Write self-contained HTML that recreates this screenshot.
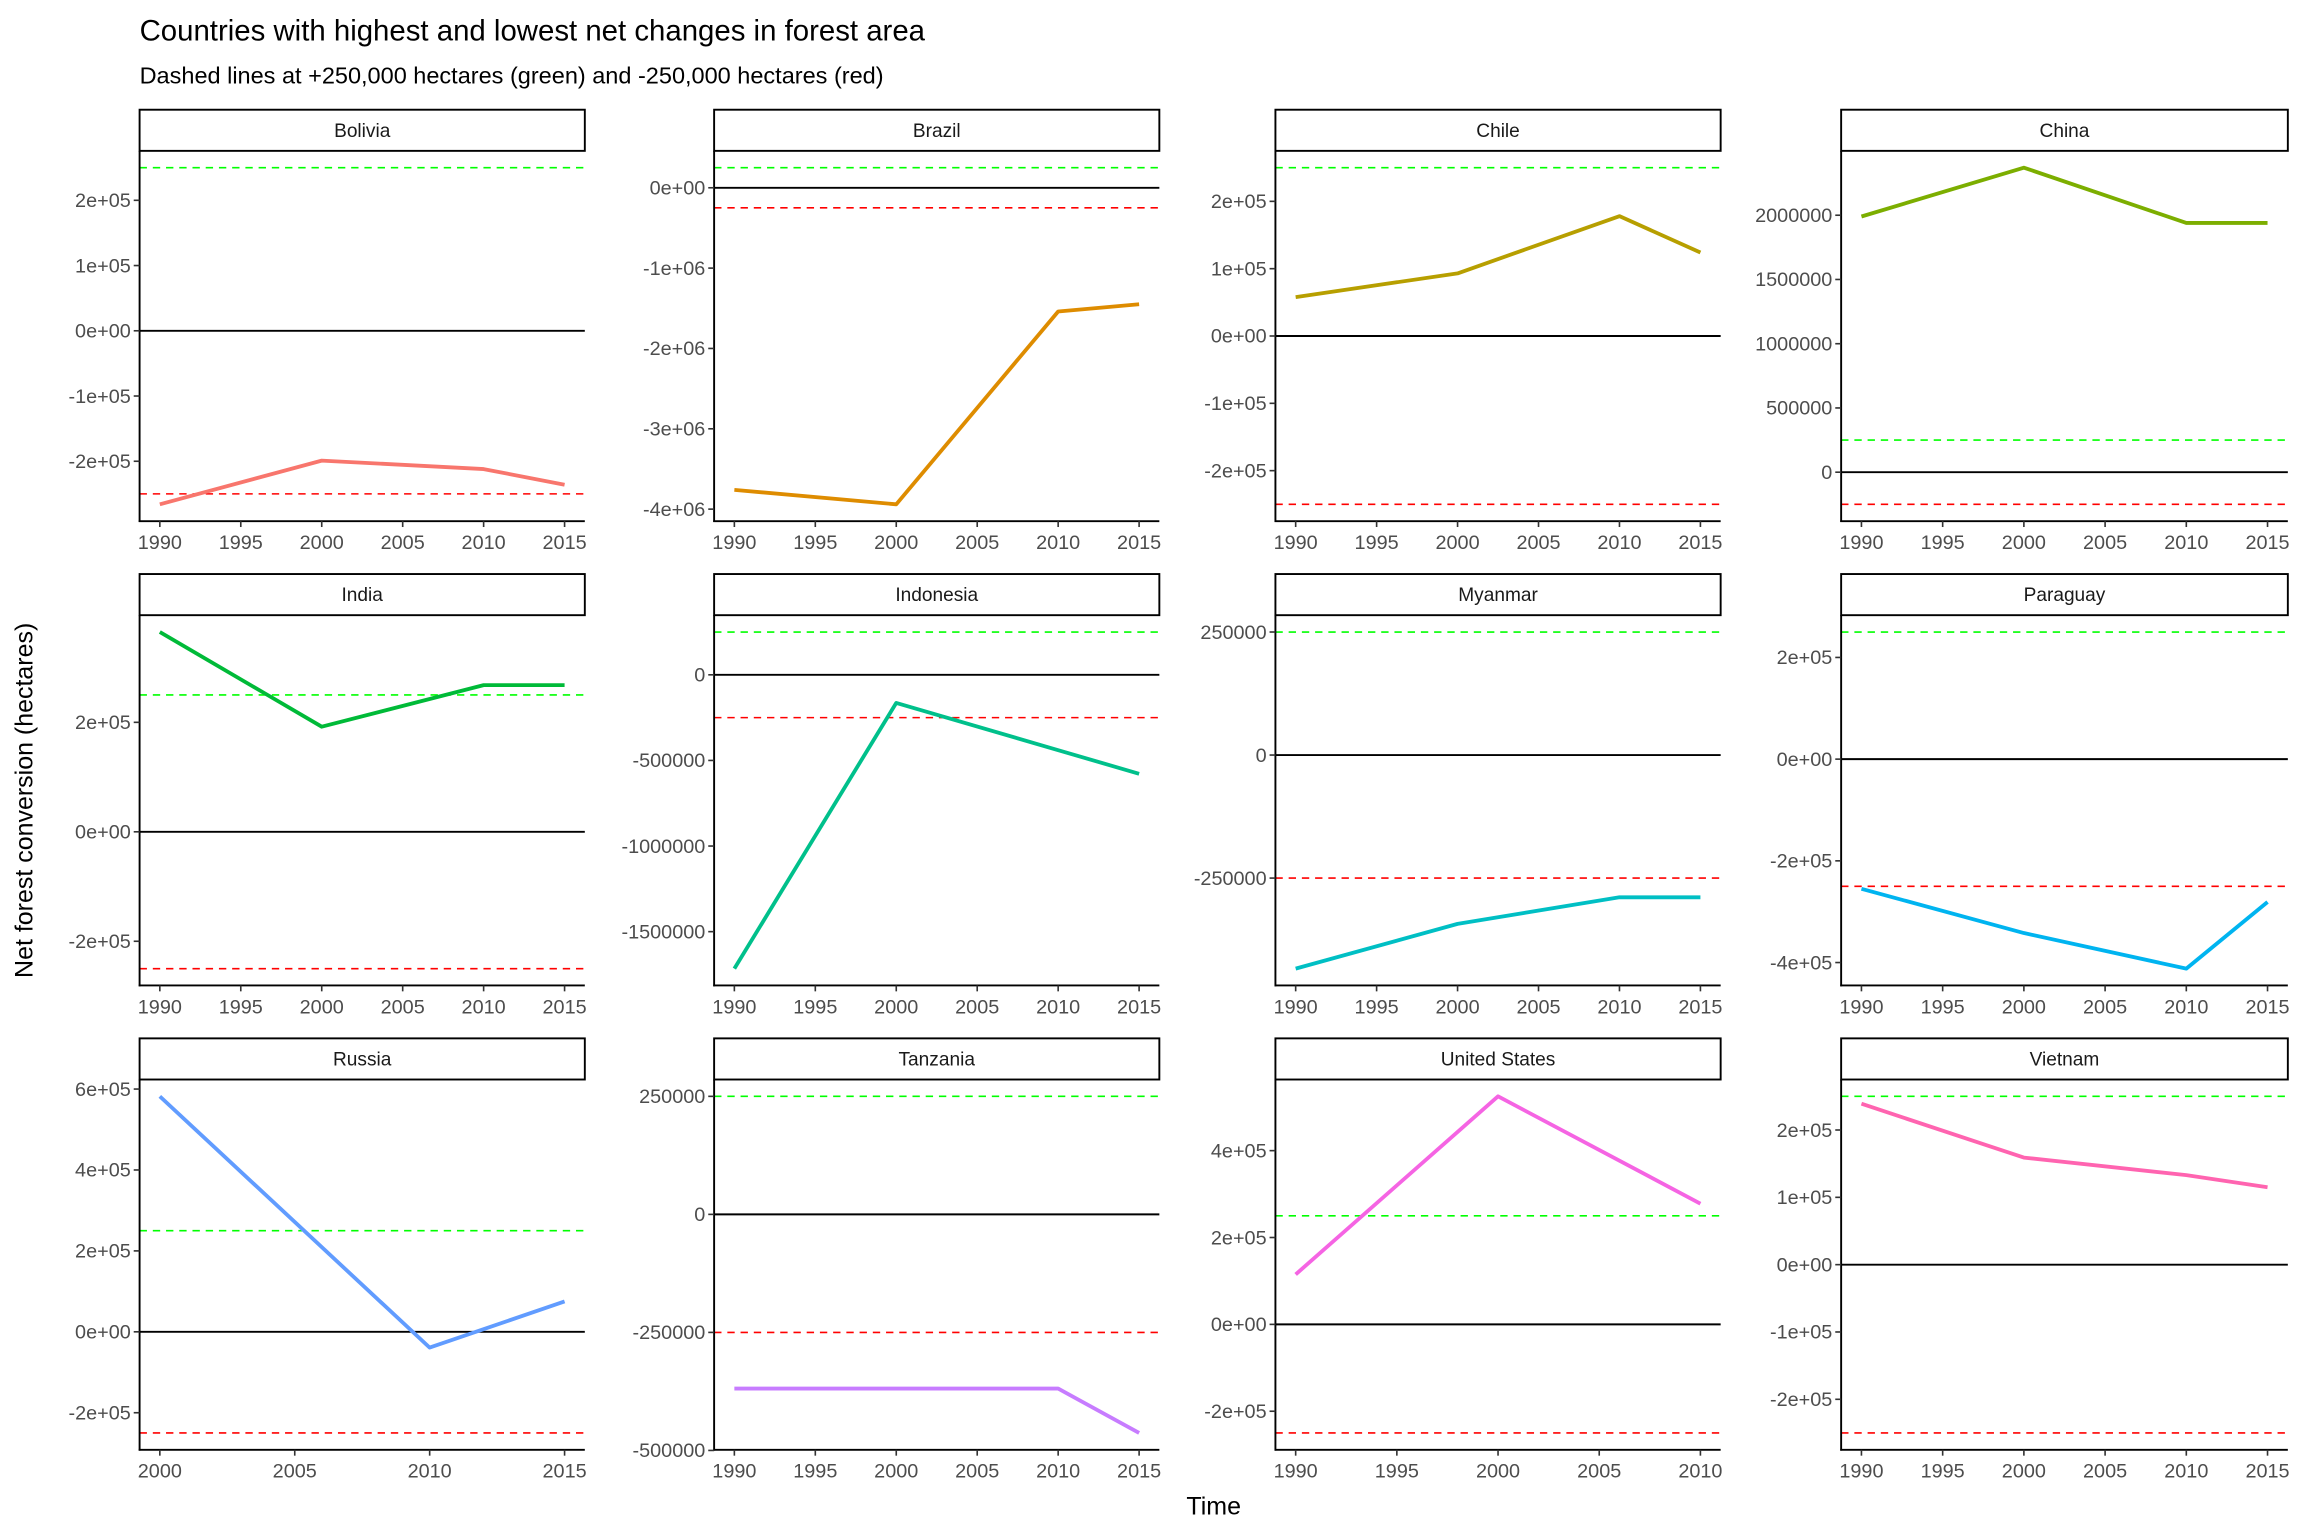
<!DOCTYPE html>
<html><head><meta charset="utf-8"><style>
body{margin:0;background:#fff}
svg{display:block;font-family:"Liberation Sans",sans-serif}
</style></head><body>
<svg id="chart" width="2304" height="1536" viewBox="0 0 1568 1044" xmlns="http://www.w3.org/2000/svg">
<rect width="1568" height="1044" fill="#fff"/>
<text x="95" y="27" font-size="20" fill="#000">Countries with highest and lowest net changes in forest area</text>
<text x="95" y="56" font-size="16" fill="#000">Dashed lines at +250,000 hectares (green) and -250,000 hectares (red)</text>
<text x="826" y="1030" font-size="17" text-anchor="middle">Time</text>
<text transform="translate(22,544) rotate(-90)" font-size="17" text-anchor="middle">Net forest conversion (hectares)</text>
<g id="panels"></g>
</svg>
<script>
const countries = ["Bolivia","Brazil","Chile","China","India","Indonesia","Myanmar","Paraguay","Russia","Tanzania","United States","Vietnam"];
const colors = ["#F8766D","#DE8C00","#B79F00","#7CAE00","#00BA38","#00C08B","#00BFC4","#00B4F0","#619CFF","#C77CFF","#F564E3","#FF64B0"];
const years = [
 [1990,2000,2010,2015],[1990,2000,2010,2015],[1990,2000,2010,2015],[1990,2000,2010,2015],
 [1990,2000,2010,2015],[1990,2000,2010,2015],[1990,2000,2010,2015],[1990,2000,2010,2015],
 [2000,2010,2015],[1990,2000,2010,2015],[1990,2000,2010],[1990,2000,2010,2015]];
const values = [
 [-266000,-199000,-212000,-236000],
 [-3760000,-3940000,-1540000,-1450000],
 [57800,93000,178000,124000],
 [1990000,2370000,1940000,1940000],
 [365000,192000,268000,268000],
 [-1716000,-164000,-440000,-578000],
 [-434000,-343000,-289000,-289000],
 [-255000,-342000,-412000,-281000],
 [582000,-39000,75000],
 [-369000,-369000,-369000,-463000],
 [115000,525000,278000],
 [239000,159000,133000,115000]];
const yTicks = [
 [-200000,-100000,0,100000,200000],
 [-4000000,-3000000,-2000000,-1000000,0],
 [-200000,-100000,0,100000,200000],
 [0,500000,1000000,1500000,2000000],
 [-200000,0,200000],
 [-1500000,-1000000,-500000,0],
 [-250000,0,250000],
 [-400000,-200000,0,200000],
 [-200000,0,200000,400000,600000],
 [-500000,-250000,0,250000],
 [-200000,0,200000,400000],
 [-200000,-100000,0,100000,200000]];
const yTickLabels = [
 ["-2e+05","-1e+05","0e+00","1e+05","2e+05"],
 ["-4e+06","-3e+06","-2e+06","-1e+06","0e+00"],
 ["-2e+05","-1e+05","0e+00","1e+05","2e+05"],
 ["0","500000","1000000","1500000","2000000"],
 ["-2e+05","0e+00","2e+05"],
 ["-1500000","-1000000","-500000","0"],
 ["-250000","0","250000"],
 ["-4e+05","-2e+05","0e+00","2e+05"],
 ["-2e+05","0e+00","2e+05","4e+05","6e+05"],
 ["-500000","-250000","0","250000"],
 ["-2e+05","0e+00","2e+05","4e+05"],
 ["-2e+05","-1e+05","0e+00","1e+05","2e+05"]];
const xTicks = [
 [1990,1995,2000,2005,2010,2015],[1990,1995,2000,2005,2010,2015],[1990,1995,2000,2005,2010,2015],[1990,1995,2000,2005,2010,2015],
 [1990,1995,2000,2005,2010,2015],[1990,1995,2000,2005,2010,2015],[1990,1995,2000,2005,2010,2015],[1990,1995,2000,2005,2010,2015],
 [2000,2005,2010,2015],[1990,1995,2000,2005,2010,2015],[1990,1995,2000,2005,2010],[1990,1995,2000,2005,2010,2015]];
const refLines = [250000,-250000];

const NS="http://www.w3.org/2000/svg";
const colL=[95,486,868,1253], colW=[303,303,303,304];
const rowT=[102,418,734], plotH=252, stripH=28;
const root=document.getElementById('panels');
function mk(tag,attrs,parent){const e=document.createElementNS(NS,tag);for(const k in attrs)e.setAttribute(k,attrs[k]);parent.appendChild(e);return e;}

countries.forEach((c,i)=>{
 const L=colL[i%4], W=colW[i%4], T=rowT[Math.floor(i/4)], B=T+plotH;
 const g=mk('g',{},root);
 
 
 const ys=years[i], vs=values[i];
 const x0=Math.min(...ys), x1=Math.max(...ys), xp=(x1-x0)*0.05;
 const xs=v=>L+(v-(x0-xp))/((x1-x0)+2*xp)*W;
 const all=vs.concat(refLines,[0]);
 const lo=Math.min(...all), hi=Math.max(...all), yp=(hi-lo)*0.05;
 const yS=v=>B-(v-(lo-yp))/((hi-lo)+2*yp)*plotH;
 const s=mk('rect',{x:L,y:T-stripH,width:W,height:stripH,fill:'#fff',stroke:'#000','stroke-width':1.3},g);
 
 
 const st=mk('text',{x:L+W/2,y:T-stripH/2+4.5,'font-size':13,'text-anchor':'middle',fill:'#1a1a1a'},g);
 st.textContent=c;
 
 
 const gl=mk('line',{x1:L,x2:L+W,y1:yS(refLines[0]),y2:yS(refLines[0]),stroke:'#00FF00','stroke-width':1.1,'stroke-dasharray':'5,4'},g);
 
 
 const rl=mk('line',{x1:L,x2:L+W,y1:yS(refLines[1]),y2:yS(refLines[1]),stroke:'#FF0000','stroke-width':1.1,'stroke-dasharray':'5,4'},g);
 
 
 const zl=mk('line',{x1:L,x2:L+W,y1:yS(0),y2:yS(0),stroke:'#000','stroke-width':1.3},g);
 
 
 const pl=mk('polyline',{points:ys.map((y,k)=>xs(y)+','+yS(vs[k])).join(' '),fill:'none',stroke:colors[i],'stroke-width':2.6,'stroke-linejoin':'round'},g);
 
 
 const ay=mk('line',{x1:L,x2:L,y1:T,y2:B+0.6,stroke:'#000','stroke-width':1.3},g);
 
 
 const ax=mk('line',{x1:L-0.6,x2:L+W,y1:B,y2:B,stroke:'#000','stroke-width':1.3},g);
 
 
 yTicks[i].forEach((t,k)=>{
  const y=yS(t);
  const tk=mk('line',{x1:L-4,x2:L,y1:y,y2:y,stroke:'#333','stroke-width':1.1},g);
  
  
  const tl=mk('text',{x:L-6,y:y+4.6,'font-size':13.5,'text-anchor':'end',fill:'#4d4d4d'},g);
  tl.textContent=yTickLabels[i][k];
  
  
 });
 xTicks[i].forEach(t=>{
  const x=xs(t);
  const tk=mk('line',{x1:x,x2:x,y1:B,y2:B+4,stroke:'#333','stroke-width':1.1},g);
  
  
  const tl=mk('text',{x:x,y:B+19,'font-size':13.5,'text-anchor':'middle',fill:'#4d4d4d'},g);
  tl.textContent=t;
  
  
 });
});
</script>
</body></html>
